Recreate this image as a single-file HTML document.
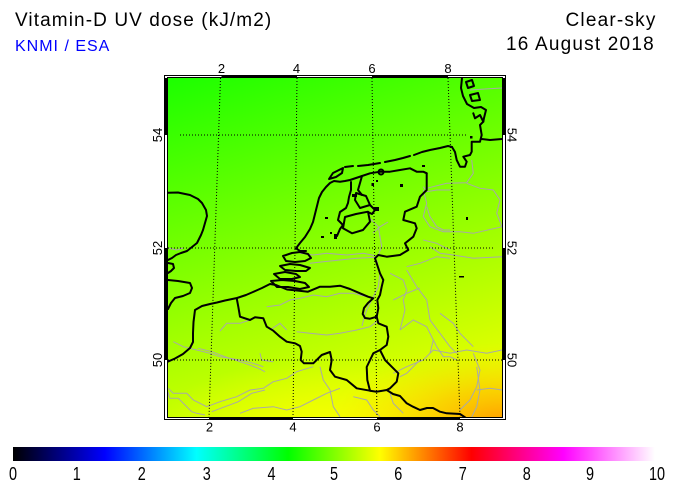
<!DOCTYPE html>
<html>
<head>
<meta charset="utf-8">
<style>
  html,body{margin:0;padding:0;background:#fff;}
  body{width:675px;height:490px;overflow:hidden;}
  svg{display:block;}
  text{font-family:"Liberation Sans", Arial, sans-serif;}
</style>
</head>
<body>
<svg width="675" height="490" viewBox="0 0 675 490" xmlns="http://www.w3.org/2000/svg">
  <defs>
    <linearGradient id="cbar" x1="0" y1="0" x2="1" y2="0">
      <stop offset="0" stop-color="#000000"/>
      <stop offset="0.1429" stop-color="#0000ff"/>
      <stop offset="0.2857" stop-color="#00ffff"/>
      <stop offset="0.4286" stop-color="#00ff00"/>
      <stop offset="0.5714" stop-color="#ffff00"/>
      <stop offset="0.7143" stop-color="#ff0000"/>
      <stop offset="0.8571" stop-color="#ff00ff"/>
      <stop offset="1" stop-color="#ffffff"/>
    </linearGradient>
    <linearGradient id="field" gradientUnits="userSpaceOnUse" x1="168" y1="78" x2="301" y2="483">
      <stop offset="0" stop-color="rgb(28,255,0)"/>
      <stop offset="1" stop-color="rgb(255,255,0)"/>
    </linearGradient>
    <radialGradient id="yel" gradientUnits="userSpaceOnUse" cx="330" cy="430" r="160" gradientTransform="translate(330 430) scale(1.1 0.45) translate(-330 -430)">
      <stop offset="0" stop-color="#ffff00" stop-opacity="0.75"/>
      <stop offset="1" stop-color="#ffff00" stop-opacity="0"/>
    </radialGradient>
    <radialGradient id="org" gradientUnits="userSpaceOnUse" cx="505" cy="425" r="150" gradientTransform="translate(505 425) scale(1.2 0.55) translate(-505 -425)">
      <stop offset="0" stop-color="rgb(255,140,0)" stop-opacity="0.92"/>
      <stop offset="0.45" stop-color="rgb(255,185,0)" stop-opacity="0.6"/>
      <stop offset="1" stop-color="rgb(255,230,0)" stop-opacity="0"/>
    </radialGradient>
    <clipPath id="mapclip"><rect x="168" y="78" width="334" height="339"/></clipPath>
  </defs>

  <!-- Titles -->
  <text x="15" y="26" font-size="19" letter-spacing="1.1" fill="#000">Vitamin-D UV dose (kJ/m2)</text>
  <text x="15" y="51" font-size="16" letter-spacing="1" fill="#0000ff">KNMI / ESA</text>
  <text x="565.5" y="26" font-size="19" letter-spacing="1.2" fill="#000">Clear-sky</text>
  <text x="506" y="50" font-size="19" letter-spacing="1.2" fill="#000">16 August 2018</text>

  <!-- Frame background -->
  <rect x="164" y="75" width="342" height="345" fill="#fff"/>
  <!-- frame black segments -->
  <g fill="#000">
    <rect x="221.5" y="75" width="75.5" height="3"/>
    <rect x="372" y="75" width="76" height="3"/>
    <rect x="209" y="417" width="84" height="3"/>
    <rect x="377" y="417" width="83" height="3"/>
    <rect x="164" y="78" width="4" height="57"/>
    <rect x="164" y="248" width="4" height="112"/>
    <rect x="502" y="78" width="4" height="57"/>
    <rect x="502" y="248" width="4" height="112"/>
  </g>
  <rect x="164.5" y="75.5" width="341" height="344" fill="none" stroke="#000" stroke-width="1"/>

  <!-- Map field -->
  <g clip-path="url(#mapclip)">
    <rect x="168" y="78" width="334" height="339" fill="url(#field)"/>
    <rect x="168" y="78" width="334" height="339" fill="url(#yel)"/>
    <rect x="168" y="78" width="334" height="339" fill="url(#org)"/>

    <!-- gray lines (rivers / admin borders) -->
    <g fill="none" stroke="#a9a9a9" stroke-width="1">
      <polyline points="300,253.3 313.3,255 326.7,253.3 346.7,255 363.3,253.3 376.7,256"/>
      <polyline points="310,263.3 323.3,261.7 340,260 356.7,258.3 376.7,257.3"/>
      <polyline points="368.3,216.7 373.3,221.7 378.3,226.7 380,236.7 381.7,246.7 378.3,255"/>
      <polyline points="423.3,186.7 426.7,191.7 436.7,190 450,190"/>
      <polyline points="426.7,206.7 430,216.7 436.7,226.7 443.3,230 450,230"/>
      <polyline points="423.3,240 436.7,243.3 443.3,246.7 450,250"/>
      <polyline points="406.7,266.7 420,263.3 436.7,256.7 450,258.3"/>
      <polyline points="376.7,260 380,273.3 378.3,286.7 373.3,296.7 370,303.3 366.7,310 364,318 362,326"/>
      <polyline points="390,273.3 403.3,280 406.7,290 403.3,300 405,310 400,330"/>
      <polyline points="423.3,190 426.7,203.3 423.3,216.7 430,226.7 443.3,231.7 460,231.7 473.3,233.3 502,226.7"/>
      <polyline points="426.7,188.3 446.7,183.3 466.7,182.7 473.3,173.3 471.7,160"/>
      <polyline points="466.7,183.3 480,188.3 493.3,190 500,200 496.7,213.3 502,226.7"/>
      <polyline points="430,246.7 440,253.3 453.3,255 473.3,258.3 502,256.7"/>
      <polyline points="406.7,270 416.7,286.7 426.7,300 430,320 440,333.3 450,346.7 456.7,353.3"/>
      <polyline points="393.3,300 406.7,293.3 420,288"/>
      <polyline points="400,330 413.3,320 426.7,326.7 433.3,340 430,353.3"/>
      <polyline points="393.3,373.3 406.7,366.7 423.3,360 433.3,350 450,353.3 466.7,350 486.7,353.3 502,350"/>
      <polyline points="440,313.3 453.3,323.3 460,333.3 473.3,346.7"/>
      <polyline points="473.3,353.3 480,370 476.7,386.7 470,400 460,410"/>
      <polyline points="476.7,390 490,388.3 502,390"/>
      <polyline points="476.7,366.7 480,390 476.7,406.7 471.7,417"/>
      <polyline points="433.3,340 436.7,346.7 443.3,356.7 450,356.7 456.7,360"/>
      <polyline points="420,360 406.7,373.3 400,376.7"/>
      <polyline points="220,331 226.7,323.3 240,323.3 250,320"/>
      <polyline points="266.7,306.7 280,305 290,300 300,298.3 313.3,295 326.7,296.7 340,293.3 353.3,293.3 366.7,296.7"/>
      <polyline points="270,330 280,323.3 286.7,330"/>
      <polyline points="296.7,331.7 310,333.3 326.7,335 340,333.3 356.7,330 370,326.7 376.7,321.7"/>
      <polyline points="260,353.3 261.7,360 273.3,361.7"/>
      <polyline points="168.3,388.3 173.3,393.3 186.7,393.3 193.3,400 206.7,406.7 220,401.7 236.7,396.7 250,390 263.3,388.3 273.3,381.7 286.7,378.3 296.7,371.7 313.3,366.7"/>
      <polyline points="173.3,341.7 183.3,346.7 196.7,350 210,353.3 220,356.7 240,360 253.3,363.3 263.3,366.7"/>
      <polyline points="167.7,391.7 170,398.3 178.3,398.3 185,405 191.7,411.7 196.7,413.3 205,415"/>
      <polyline points="198.3,348.3 211.7,351.7 225,356.7 235,360 245,363.3 258.3,368.3 265,371.7"/>
      <polyline points="265,390 251.7,393.3 238.3,401.7 225,406.7 211.7,411.7"/>
      <polyline points="240,413.3 253.3,408.3 273.3,406.7 286.7,410 300,406.7 313.3,400 326.7,393.3 340,388.3"/>
      <polyline points="320,366.7 323.3,380 330,390 333.3,406.7 340,416.7"/>
      <polyline points="353.3,396.7 366.7,400 373.3,410 380,416.7"/>
      <polyline points="390,393.3 393.3,403.3 403.3,413.3"/>
      <polyline points="168,248 176.7,250 183,248"/>
      <polyline points="470,90 485,89 503,88"/>
      <polyline points="373,233 380,226.7 388,222"/>
    </g>

    <!-- graticule -->
    <g fill="none" stroke="#000" stroke-width="1" stroke-dasharray="1 2">
      <line x1="180" y1="135" x2="468" y2="135"/>
      <line x1="168" y1="248" x2="495" y2="248"/>
      <line x1="168" y1="360" x2="502" y2="360"/>
      <line x1="220.5" y1="78" x2="209" y2="417"/>
      <line x1="297" y1="78" x2="293" y2="417"/>
      <line x1="372" y1="78" x2="377" y2="417"/>
      <line x1="448" y1="78" x2="460" y2="417"/>
    </g>

    <!-- coastlines & borders -->
    <g fill="none" stroke="#000" stroke-width="2" stroke-linejoin="round" stroke-linecap="round">
      <polyline points="167.7,192.7 178,192.5 190,195 198,199 202,203 206,210 207,216 205,223 203,230 201,235 197,243 192,247 187,251 181,253 176,255 172,258 168,260"/>
      <polyline points="168,263 173,264 174,268 171,271 168,273"/>
      <polyline points="168,280 178,281 190,283 192,288 190,293 183,296 175,298 171,303 168,309"/>
      <polyline points="167.7,361.7 175,358.5 183,354 190,348 193,342 193,333 193.5,322 195,310 202,306 210,304 217,302.5 225,300.5 237,298 246,295 253,292 262,288 270,284 276,285 287,289.5 297,290.5 308,291.7 320,286.7 330,286.7 340,285.7 350,289 360,293.3 368,296.7 373.3,298.3 368,303 364,308 362.7,314 365,318 370,318.7 376.7,316.7 378.3,323.3 386.7,326.7 388.3,336.7 386.7,345 380,350"/>
      <polygon points="380,350 385,360 393.3,368.3 398.3,373.3 396.7,381.7 390,388.3 386.7,390 376.7,391.7 370,390.7 367.3,380 366.7,367 373.3,353.3"/>
      <polyline points="236.7,298.3 238.3,306.7 240,316.7 250,320 255,317.3 263.3,318.3 266.7,326.7 273.3,330.7 280,336.7 286.7,341.7 295,343.3 300,346 301.7,351.7 300.7,360 304,363.3 313.3,363.3 321.7,355 330,352 331.7,360 330,370 335,376.7 346.7,380 356.7,388.3 370,390.7"/>
      <polyline points="386.7,390 393,394 400,396 406.7,403.3 413,406.7 420,410 427,408 433,408 440,411.7 446.7,413.3 460,414 466,418"/>
      <polyline points="376.7,316.7 378.3,308.3 377.3,300 380,295 381.7,286.7 383.3,280 380,273.3 376.7,263.3 375,258.3 378.3,255 386.7,256.7 400,255 408.3,250 405,243.3 413.3,236.7 416.7,228.3 415,223.3 403.3,220 405,211.7 416.7,206.7 420,196.7 426.7,190 426.7,173.3"/>
      <polyline points="296,248.3 300,243 305,237 310,229 313,222 315,214 317,206 319,198 322,192 326,187 330,183 334,181 340,181.7 345,181 350,180 356,178 362,176 370,173.3 380,171.7 390,171.7 400,170 410,168.3 416.7,171.7 423.3,171.7 426.7,173.3"/>
      <circle cx="381" cy="172" r="2.5"/>
      <polygon points="329,179 333,173 339,170 343,168 342,173 336,177"/>
      <path d="M345,167 L353,166 M358,166 L368,165 L380,163 M385,162 L395,160 L403,158 L410,156 M414,155 L422,152 L430,150 L440,148 L448,146 L452,147"/>
      <polyline points="351,182 351,190 349,197 348,203 346,208 340,212 338,220 343,225 340,229 337,236"/>
      <polygon points="345,217 356,214 368,211.7 370,221.7 363,230 352,233.3 343,228.3"/>
      <polygon points="356,193 366,196 370,205 360,208 355,200"/>
      <polyline points="362,176 360,183 358,190 362,195"/>
      <polyline points="370,205 375,210 372,214 368,212"/>
      <!-- Zeeland -->
      <polygon points="283,256 292,253 300,252 308,254 311,258 305,261 295,262 286,261"/>
      <polygon points="280,266 290,264 300,265 310,268 306,271 296,271 285,270"/>
      <polygon points="274,274 285,272 296,274 300,277 292,279 280,279"/>
      <polygon points="271,281 282,280 295,281 305,283 309,287 300,289 288,287 277,287"/>
      <polyline points="296,248.3 300,251 306,251"/>
      <!-- Germany coast -->
      <polyline points="452,147 455,152 456.7,160 460,166.7 465,166.7 466.7,161.7 463.3,156.7 470,155 471.7,151.7 471.7,141.7 480,141.7 481.7,135 480,125 483.3,121.7 480,115 475,118.3 473.3,113.3"/>
      <polyline points="462,78 461,88 463,96 467,104 474,108 481,107 486,110 484,118 483.3,121.7"/>
      <polyline points="481.7,139 490,140 502,139"/>
      <polygon points="466,82 472,80 474,86 468,88"/>
      <polygon points="470,95 478,93 480,100 472,101"/>
    </g>
    <!-- small islands / lakes -->
    <g fill="#000">
      <rect x="400" y="184" width="3" height="3"/>
      <rect x="422" y="165" width="3" height="2"/>
      <rect x="371.5" y="183" width="2.5" height="3"/>
      <rect x="376" y="180" width="2" height="2"/>
      <rect x="325" y="217" width="3" height="2"/>
      <rect x="321" y="236" width="3" height="2"/>
      <rect x="334" y="234" width="3" height="5"/>
      <rect x="459" y="276" width="5" height="1.5"/>
      <rect x="466" y="217" width="2" height="3"/>
      <rect x="352" y="194" width="5" height="3"/>
      <rect x="374" y="207" width="5" height="4"/>
      <rect x="470" y="136" width="2.5" height="2.5"/>
      <rect x="330" y="232" width="2" height="2"/>
    </g>
  </g>

  <!-- inner frame outline -->
  <rect x="167.5" y="77.5" width="335" height="340" fill="none" stroke="#000" stroke-width="1"/>

  <!-- tick labels -->
  <g font-size="13" fill="#000" text-anchor="middle">
    <text x="221.5" y="73">2</text>
    <text x="296.5" y="73">4</text>
    <text x="372" y="73">6</text>
    <text x="448" y="73">8</text>
    <text x="209.5" y="431.5">2</text>
    <text x="293" y="431.5">4</text>
    <text x="377" y="431.5">6</text>
    <text x="460" y="431.5">8</text>
    <text transform="translate(162,135) rotate(-90)">54</text>
    <text transform="translate(162,248) rotate(-90)">52</text>
    <text transform="translate(162,360) rotate(-90)">50</text>
    <text transform="translate(507.5,135) rotate(90)">54</text>
    <text transform="translate(507.5,248) rotate(90)">52</text>
    <text transform="translate(507.5,360) rotate(90)">50</text>
  </g>

  <!-- colour bar -->
  <rect x="13" y="447" width="642" height="14" fill="url(#cbar)"/>
  <g font-size="18.5" fill="#000" text-anchor="middle">
    <text transform="translate(13,480) scale(0.78,1)">0</text>
    <text transform="translate(76.7,480) scale(0.78,1)">1</text>
    <text transform="translate(141.7,480) scale(0.78,1)">2</text>
    <text transform="translate(206.7,480) scale(0.78,1)">3</text>
    <text transform="translate(271.5,480) scale(0.78,1)">4</text>
    <text transform="translate(334,480) scale(0.78,1)">5</text>
    <text transform="translate(398.3,480) scale(0.78,1)">6</text>
    <text transform="translate(462.7,480) scale(0.78,1)">7</text>
    <text transform="translate(526.7,480) scale(0.78,1)">8</text>
    <text transform="translate(590,480) scale(0.78,1)">9</text>
    <text transform="translate(657,480) scale(0.78,1)">10</text>
  </g>
</svg>
</body>
</html>
